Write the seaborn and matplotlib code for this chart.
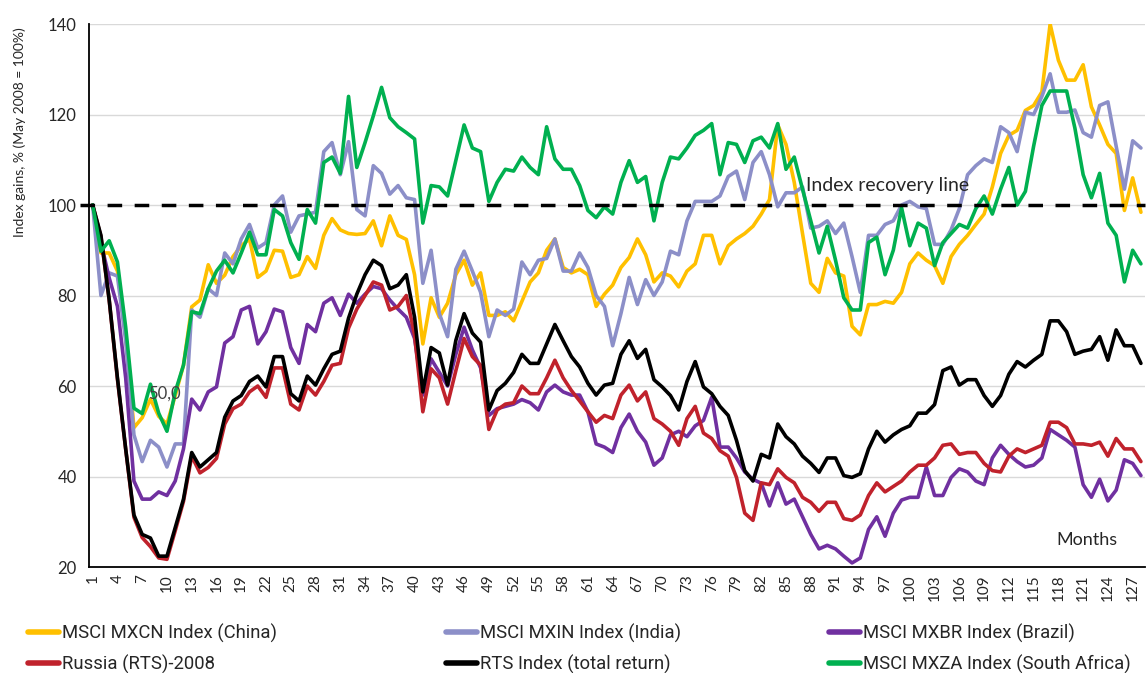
import numpy as np
import pandas as pd
import matplotlib
matplotlib.use('Agg')
import matplotlib.pyplot as plt
import seaborn as sns
from matplotlib.lines import Line2D

months = list(range(1, 129))

china = [100, 89.4, 89.4, 85.4, 71, 50.8, 53, 57.1, 53.3, 51.6, 57.9, 64.6, 77.5, 79, 86.8, 82.7, 84.5,
         88.6, 91, 92.5, 84, 85.4, 90, 89.8, 84, 84.6, 88.6, 86, 93.3, 97, 94.5, 93.7, 93.5,
         93.7, 96.5, 91, 97.6, 93.3, 92.4, 84.6, 69.3, 79.5, 75.2, 78.3, 84.6, 87.8, 82.3, 85, 75.6,
         75.6, 76.4, 74.4, 78.7, 83, 85, 90, 92.5, 86.2, 85, 85.8, 84.6, 77.6, 80.3, 82.3, 86.2, 88.4,
         92.5, 89, 83, 85, 84.3, 81.9, 85.4, 87, 93.3, 93.3, 87, 91, 92.5, 93.7, 95.3, 98,
         101.2, 117.7, 113.4, 105, 93.7, 82.7, 80.7, 88.2, 85, 84.3, 73.2, 71.3, 78, 78, 78.7, 78.3, 80.7,
         87, 89.4, 87.8, 86.6, 82.7, 88.6, 91.3, 93.3, 95.7, 98, 104, 111.4, 115.4, 116.5, 120.9, 122,
         125, 140, 132, 127.6, 127.6, 131, 121.7, 117.7, 113.4, 111.4, 98.8, 106, 98.4]

india = [100, 80, 85, 84.3, 70, 49.2, 43.3, 48, 46.5, 42.1, 47.2, 47.2, 76.8, 75.2, 81.5, 80, 89.4,
         87, 92.5, 95.7, 90.5, 91.7, 100, 102, 94, 97.6, 98, 98.4, 111.8, 113.8, 106.7, 114, 99,
         97.6, 108.7, 107, 102.4, 104.3, 101.6, 101.2, 82.7, 90, 76, 70.9, 85.8, 89.8, 85.4, 80.7, 70.9,
         76.8, 75.6, 77, 87.4, 84.6, 87.8, 88.2, 92.5, 85.4, 85.4, 89.4, 86.2, 80, 77.6, 68.9, 76, 84,
         78, 83.5, 80, 83, 89.8, 89, 96.5, 100.8, 100.8, 100.8, 102, 106.3, 107.5, 101.2, 109.4, 111.8,
         106.7, 99.6, 102.7, 102.7, 104, 94.9, 95.3, 96.5, 93.7, 96, 88.6, 80.7, 93.3, 93.3, 95.7, 96.5, 100,
         100.8, 99.6, 99.2, 91.3, 91.3, 94.5, 99.2, 106.7, 108.7, 110.2, 109.4, 117.3, 116, 111.8, 120.5, 120,
         124, 129, 120.5, 120.5, 121, 116, 115, 122, 122.8, 113, 103.5, 114.2, 112.6]

brazil = [100, 91.7, 83.9, 77.6, 61.8, 39, 35, 35, 36.6, 35.8, 39, 46.1, 57.1, 54.7, 58.7, 59.8, 69.5,
          70.9, 76.8, 77.6, 69.3, 72, 77, 76.4, 68.5, 65, 73.6, 72, 78.3, 79.5, 75.6, 80.3, 78.3,
          80.3, 82, 81.5, 79, 77, 75.2, 70.5, 58, 66, 63, 60, 67, 73, 68, 64, 53.5,
          55, 55.5, 56, 57, 56.3, 54.7, 58.7, 60.2, 58.7, 58, 58, 54.3, 47.2, 46.5, 45.3, 50.8, 53.8,
          50, 47.6, 42.5, 44.1, 49.2, 50, 48.8, 51.2, 52.4, 57.5, 46.5, 46.5, 44.1, 41, 39.4, 38.5,
          33.5, 38.6, 33.9, 35, 31.1, 27.2, 24, 24.8, 24, 22.4, 20.9, 22, 28.3, 31.1, 26.8, 31.9, 34.8,
          35.4, 35.4, 42.1, 35.8, 35.8, 39.8, 41.7, 41, 39, 38.2, 44.1, 46.9, 44.9, 43.3, 42.1, 42.5,
          44.1, 50.4, 49.2, 48, 46.5, 38.2, 35.4, 39.4, 34.6, 37, 43.7, 42.9, 40.2]

russia = [100, 93, 79, 61.5, 46, 31, 26.5, 24.5, 22, 21.7, 28, 34.5, 44.5, 40.8, 42, 44, 51.6,
          55, 56, 58.7, 60, 57.5, 64, 64, 56, 54.7, 60, 58, 61, 64.6, 65, 72.8, 77,
          80, 83, 82.3, 76.8, 77.6, 80, 71.3, 54.3, 63.8, 61.8, 56, 63.4, 70.5, 66.5, 64.6, 50.4,
          54.7, 56, 56.3, 60, 58.3, 58.3, 61.8, 65.7, 61.8, 59, 56.7, 54.3, 52, 53.5, 52.8, 58, 60.2,
          56.7, 58.7, 52.8, 51.6, 50, 46.9, 52.8, 55.5, 49.6, 48.4, 45.7, 44.5, 39.8, 31.9, 30.3, 38.6,
          38.2, 41.7, 39.8, 38.6, 35.4, 34.3, 32.3, 34.3, 34.3, 30.7, 30.3, 31.5, 35.8, 38.6, 36.6, 37.8, 39,
          41, 42.5, 42.5, 44.1, 46.9, 47.2, 44.9, 45.3, 45.3, 42.9, 41.3, 41, 44.5, 46.1, 45.3, 46.1,
          46.9, 52, 52, 50.8, 47.2, 47.2, 46.9, 47.6, 44.5, 48.4, 46.1, 46.1, 43.3]

rts = [100, 93.3, 79.1, 61.8, 46.1, 31.5, 27.2, 26.4, 22.4, 22.4, 28.7, 35, 45.3, 42.1, 43.7, 45.3, 53.1,
       56.7, 57.9, 61, 62.2, 59.8, 66.5, 66.5, 58.3, 56.7, 62.2, 60.2, 63.8, 67, 67.7, 75, 80.3,
       84.6, 87.8, 86.6, 81.5, 82.3, 84.6, 75.2, 58.7, 68.5, 67.3, 60.2, 70.1, 76, 71.7, 69.7, 54.7,
       59, 60.6, 63, 67, 65, 65, 69.3, 73.6, 70, 66.5, 64.2, 60.6, 58, 60.2, 60.6, 67, 70,
       66.1, 68.1, 61.4, 59.8, 57.9, 54.7, 61, 65.4, 59.8, 58.3, 55.5, 53.5, 48, 41.3, 39, 44.9,
       44.1, 51.6, 48.8, 47.2, 44.5, 42.9, 40.9, 44.1, 44.1, 40.2, 39.8, 40.6, 46.1, 50, 47.6, 49.2, 50.4,
       51.2, 54, 54, 55.9, 63.4, 64.2, 60.2, 61.4, 61.4, 57.9, 55.5, 57.9, 62.6, 65.4, 64.2, 65.7,
       67, 74.4, 74.4, 72, 67, 67.7, 68.1, 70.9, 65.7, 72.4, 68.9, 68.9, 65]

safrica = [100, 89.8, 92.1, 87.4, 73, 55.1, 53.9, 60.4, 54, 50, 58.7, 64.6, 76.4, 76, 81.5, 85.4, 87.8,
           85, 89.4, 94, 89, 89, 99, 97.6, 91.7, 88, 99, 96, 109.4, 110.6, 107, 124, 108.3,
           113.8, 119.7, 126, 119.3, 117.3, 116, 114.6, 96, 104.3, 104, 102, 109.8, 117.7, 112.6, 111.8, 100.8,
           105, 107.9, 107.5, 110.6, 108.3, 106.7, 117.3, 110.2, 107.9, 107.9, 104.3, 98.8, 97.2, 99.6, 98, 105, 109.8,
           105, 106.3, 96.5, 105, 110.6, 110.2, 112.6, 115.4, 116.5, 118, 106.7, 113.8, 113.4, 109.4, 114.2, 115,
           112.6, 118, 107.9, 110.6, 103.5, 96.5, 89.4, 95.3, 87.8, 79.5, 76.8, 76.8, 91.7, 92.9, 84.6, 90, 99.4,
           91, 96, 94.9, 86.6, 91.7, 93.7, 95.7, 94.9, 99.2, 102, 98, 103.5, 108.3, 100, 103, 113,
           122, 125.2, 125.2, 125.2, 117, 106.7, 101.6, 107, 96, 93.3, 83, 90, 87]

names = ['MSCI MXCN Index (China)', 'MSCI MXIN Index (India)', 'MSCI MXBR Index (Brazil)',
         'Russia (RTS)-2008', 'RTS Index (total return)', 'MSCI MXZA Index (South Africa)']
colors = ['#FFC000', '#8C8FC8', '#7030A0', '#C0222C', '#000000', '#00B050']

series = [china, india, brazil, russia, rts, safrica]
df = pd.DataFrame({'month': months * 6,
                   'value': sum(series, []),
                   'series': np.repeat(names, len(months))})

sns.set_style('white')
plt.rcParams['font.family'] = ['Lato', 'DejaVu Sans']

fig = plt.figure(figsize=(11.47, 6.73), dpi=100)
ax = fig.add_axes([0.0772, 0.1575, 0.9211, 0.8068])

sns.lineplot(data=df, x='month', y='value', hue='series', hue_order=names,
             palette=colors, linewidth=2.6, legend=False, errorbar=None, ax=ax)

# recovery line
ax.axhline(100, xmin=-0.008, xmax=1, color='black', lw=2.5, ls=(0, (4.2, 3.6)),
           clip_on=False, zorder=5)

ax.set_xlim(0.5, 128.5)
ax.set_ylim(20, 140)
ax.set_yticks(range(20, 141, 20))
ax.set_xticks(range(1, 129, 3))
ax.set_xticks(np.arange(0.5, 129, 1), minor=True)
ax.tick_params(axis='x', which='major', length=0, pad=5, labelsize=11, rotation=90, colors='#262626')
ax.tick_params(axis='x', which='minor', length=5, width=0.8, color='#888888', direction='out')
ax.tick_params(axis='y', length=5, width=0.8, labelsize=12, colors='#262626')
ax.tick_params(axis='y', color='#888888')
ax.grid(axis='y', color='#D9D9D9', lw=1)
ax.set_axisbelow(True)

for s in ['top', 'right']:
    ax.spines[s].set_visible(False)
for s in ['left', 'bottom']:
    ax.spines[s].set_color('black')
    ax.spines[s].set_linewidth(1.3)

ax.set_xlabel('')
ax.set_ylabel('Index gains, % (May 2008 = 100%)', fontsize=10, color='#262626')
ax.yaxis.set_label_coords(-0.059, 0.80)

ax.text(9.7, 58.4, '50,0', fontsize=12, color='#404040', ha='center', va='center')
ax.text(87.4, 104.3, 'Index recovery line', fontsize=14, color='#262626', ha='left', va='center')
ax.text(121.5, 26, 'Months', fontsize=13, color='#262626', ha='center', va='center')

# legend in three columns
leg_font = {'family': ['Liberation Sans Narrow', 'Roboto', 'DejaVu Sans'], 'size': 13.3}
cols = [(0, 3), (1, 4), (2, 5)]
xs = [28, 446, 829]
for (a, b), x in zip(cols, xs):
    hs = [Line2D([], [], color=colors[i], lw=4) for i in (a, b)]
    fig.legend(hs, [names[a], names[b]], loc='upper left',
               bbox_to_anchor=(x / 1147, 1 - 624 / 673), frameon=False,
               prop=leg_font, handlelength=1.7, handletextpad=0.15,
               labelspacing=0.62, borderpad=0, borderaxespad=0)

fig.savefig('out.png', dpi=100)
plt.close(fig)
